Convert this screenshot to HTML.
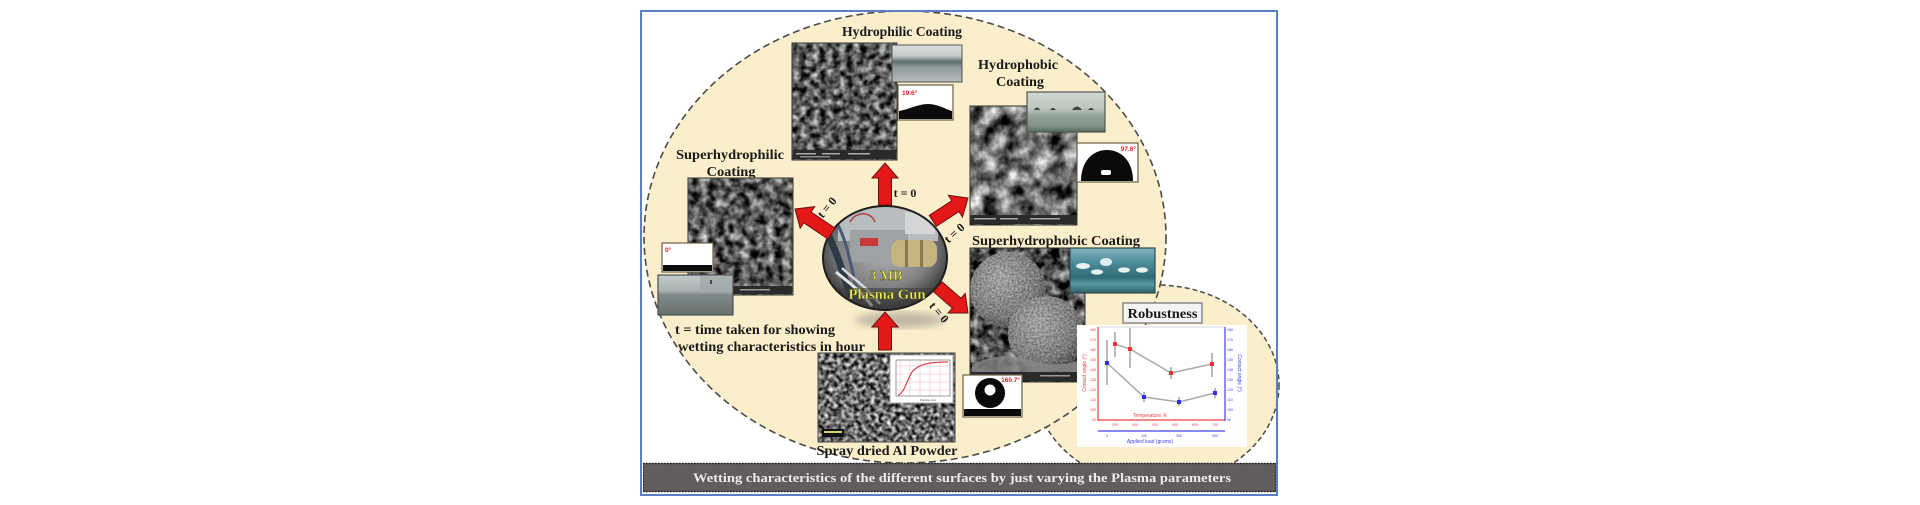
<!DOCTYPE html>
<html><head><meta charset="utf-8"><title>Wetting characteristics</title>
<style>
html,body{margin:0;padding:0;background:#fff;width:1920px;height:505px;overflow:hidden}
svg{display:block}
.t{font-family:"Liberation Serif","DejaVu Serif",serif;font-weight:bold;fill:#1a1a1a}
.s{font-family:"Liberation Sans","DejaVu Sans",sans-serif}
</style></head><body>
<svg width="1920" height="505" viewBox="0 0 1920 505" xmlns="http://www.w3.org/2000/svg">
<defs>
<filter id="nA" x="0" y="0" width="1" height="1" color-interpolation-filters="sRGB">
<feTurbulence type="fractalNoise" baseFrequency="0.15" numOctaves="3" seed="4"/>
<feColorMatrix type="matrix" values="1.5 0 0 0 -0.40 1.5 0 0 0 -0.40 1.5 0 0 0 -0.40 0 0 0 0 1"/>
<feGaussianBlur stdDeviation="0.5"/>
</filter>
<filter id="nB" x="0" y="0" width="1" height="1" color-interpolation-filters="sRGB">
<feTurbulence type="fractalNoise" baseFrequency="0.06" numOctaves="4" seed="9"/>
<feColorMatrix type="matrix" values="1.6 0 0 0 -0.36 1.6 0 0 0 -0.36 1.6 0 0 0 -0.36 0 0 0 0 1"/>
</filter>
<filter id="nC" x="0" y="0" width="1" height="1" color-interpolation-filters="sRGB">
<feTurbulence type="fractalNoise" baseFrequency="0.12" numOctaves="3" seed="13"/>
<feColorMatrix type="matrix" values="1.5 0 0 0 -0.40 1.5 0 0 0 -0.40 1.5 0 0 0 -0.40 0 0 0 0 1"/>
<feGaussianBlur stdDeviation="0.5"/>
</filter>
<filter id="nD" x="0" y="0" width="1" height="1" color-interpolation-filters="sRGB">
<feTurbulence type="fractalNoise" baseFrequency="0.24" numOctaves="2" seed="21"/>
<feColorMatrix type="matrix" values="2.0 0 0 0 -0.58 2.0 0 0 0 -0.58 2.0 0 0 0 -0.58 0 0 0 0 1"/>
<feGaussianBlur stdDeviation="0.4"/>
</filter>
<filter id="nE" x="0" y="0" width="1" height="1" color-interpolation-filters="sRGB">
<feTurbulence type="fractalNoise" baseFrequency="0.1" numOctaves="3" seed="30"/>
<feColorMatrix type="matrix" values="1.4 0 0 0 -0.42 1.4 0 0 0 -0.42 1.4 0 0 0 -0.42 0 0 0 0 1"/>
</filter>
<filter id="nF" x="0" y="0" width="1" height="1" color-interpolation-filters="sRGB">
<feTurbulence type="fractalNoise" baseFrequency="0.5" numOctaves="2" seed="5"/>
<feColorMatrix type="matrix" values="2 0 0 0 -0.5 2 0 0 0 -0.5 2 0 0 0 -0.5 0 0 0 0 1"/>
</filter>
<filter id="blur4"><feGaussianBlur stdDeviation="4"/></filter>
<radialGradient id="gun" cx="0.5" cy="0.42" r="0.62">
<stop offset="0" stop-color="#b4b6b8"/><stop offset="0.6" stop-color="#7e8082"/><stop offset="1" stop-color="#262626"/>
</radialGradient>
<radialGradient id="sph" cx="0.4" cy="0.35" r="0.7">
<stop offset="0" stop-color="#b0b0b0"/><stop offset="0.7" stop-color="#7a7a7a"/><stop offset="1" stop-color="#3c3c3c"/>
</radialGradient>
<linearGradient id="ph1" x1="0" y1="0" x2="0" y2="1">
<stop offset="0" stop-color="#dcdfdf"/><stop offset="0.3" stop-color="#c3c9c9"/><stop offset="0.45" stop-color="#5c6d6b"/><stop offset="0.6" stop-color="#8e9a9a"/><stop offset="1" stop-color="#b6bbbb"/>
</linearGradient>
<linearGradient id="ph2" x1="0" y1="0" x2="0" y2="1">
<stop offset="0" stop-color="#d3d8d3"/><stop offset="0.4" stop-color="#bcc7bf"/><stop offset="0.6" stop-color="#93a49a"/><stop offset="0.85" stop-color="#7f9188"/><stop offset="1" stop-color="#55665d"/>
</linearGradient>
<linearGradient id="ph3" x1="0" y1="0" x2="0" y2="1">
<stop offset="0" stop-color="#86b3c2"/><stop offset="0.3" stop-color="#4f8e9c"/><stop offset="0.65" stop-color="#2f6b76"/><stop offset="0.8" stop-color="#5a9aa4"/><stop offset="1" stop-color="#2c5f68"/>
</linearGradient>
<linearGradient id="ph4" x1="0" y1="0" x2="0" y2="1">
<stop offset="0" stop-color="#c4caca"/><stop offset="0.4" stop-color="#aab2b2"/><stop offset="0.5" stop-color="#7d8888"/><stop offset="1" stop-color="#66716f"/>
</linearGradient>
<clipPath id="gunclip"><ellipse cx="885" cy="258" rx="62" ry="52"/></clipPath>
<clipPath id="sphclip"><circle cx="1008" cy="290" r="38"/><circle cx="1046" cy="334" r="38"/></clipPath>
</defs>

<rect width="1920" height="505" fill="#fff"/>

<!-- ellipses -->
<ellipse cx="1157" cy="385" rx="122" ry="100" fill="#fbeecb" stroke="#4a4a4a" stroke-width="1.5" stroke-dasharray="5 3"/>
<ellipse cx="905" cy="237" rx="261" ry="226" fill="#fbeecb" stroke="#4a4a4a" stroke-width="1.6" stroke-dasharray="7 4"/>

<!-- Hydrophilic -->
<text class="t" x="902" y="36" font-size="14" text-anchor="middle" textLength="120" lengthAdjust="spacingAndGlyphs">Hydrophilic Coating</text>
<rect x="792" y="43" width="105" height="117" filter="url(#nA)"/>
<rect x="792" y="43" width="105" height="117" fill="none" stroke="#333" stroke-width="1"/>
<rect x="793" y="150" width="103" height="9" fill="#2a2a2a"/>
<rect x="796" y="153" width="20" height="1.5" fill="#aaa"/><rect x="822" y="153" width="18" height="1.5" fill="#aaa"/><rect x="848" y="153" width="22" height="1.5" fill="#aaa"/><rect x="800" y="156" width="30" height="1.5" fill="#888"/>
<rect x="892" y="45" width="70" height="37" fill="url(#ph1)" stroke="#555" stroke-width="1"/>
<rect x="898" y="85" width="55" height="35" fill="#fff" stroke="#6b5f48" stroke-width="1.2"/>
<path d="M899,119 L899,111 C910,109 918,104 928,104 C938,104 945,109 952,111 L952,119 Z" fill="#0c0c0c"/>
<text class="s" x="902" y="95" font-size="6.5" fill="#e02020" font-weight="bold">19.6°</text>

<!-- Hydrophobic -->
<text class="t" x="1018" y="69" font-size="14" text-anchor="middle" textLength="80" lengthAdjust="spacingAndGlyphs">Hydrophobic</text>
<text class="t" x="1020" y="86" font-size="14" text-anchor="middle" textLength="48" lengthAdjust="spacingAndGlyphs">Coating</text>
<rect x="970" y="106" width="107" height="119" filter="url(#nB)"/>
<rect x="970" y="106" width="107" height="119" fill="none" stroke="#333" stroke-width="1"/>
<rect x="971" y="215" width="105" height="9" fill="#2a2a2a"/>
<rect x="974" y="218" width="22" height="1.5" fill="#aaa"/><rect x="1000" y="218" width="18" height="1.5" fill="#aaa"/><rect x="1030" y="218" width="30" height="1.5" fill="#aaa"/>
<rect x="1027" y="92" width="78" height="40" fill="url(#ph2)" stroke="#4e5a52" stroke-width="1.2"/>
<path d="M1034,110 q3,-5 6,0 z M1050,110 q3,-4 6,0 z M1072,110 q5,-7 10,0 z M1088,110 q3,-4 6,0 z" fill="#3c4640"/>
<rect x="1077" y="143" width="61" height="39" fill="#fff" stroke="#6b5f48" stroke-width="1.2"/>
<path d="M1081,181 C1081,162 1092,150 1107,150 C1122,150 1133,162 1133,181 Z" fill="#0a0a0a"/>
<rect x="1101" y="170" width="10" height="5" rx="2" fill="#fff"/>
<text class="s" x="1136" y="151" font-size="6.5" fill="#e02020" font-weight="bold" text-anchor="end">97.6°</text>

<!-- Superhydrophilic -->
<text class="t" x="730" y="159" font-size="14" text-anchor="middle" textLength="108" lengthAdjust="spacingAndGlyphs">Superhydrophilic</text>
<text class="t" x="731" y="176" font-size="14" text-anchor="middle" textLength="49" lengthAdjust="spacingAndGlyphs">Coating</text>
<rect x="688" y="178" width="105" height="117" filter="url(#nC)"/>
<rect x="688" y="178" width="105" height="117" fill="none" stroke="#333" stroke-width="1"/>
<rect x="689" y="286" width="103" height="8" fill="#2a2a2a"/>
<rect x="740" y="289" width="30" height="1.5" fill="#999"/>
<rect x="662" y="243" width="51" height="29" fill="#fff" stroke="#6b5f48" stroke-width="1.2"/>
<rect x="663" y="265" width="49" height="6" fill="#0c0c0c"/>
<text class="s" x="665" y="252" font-size="6.5" fill="#e02020" font-weight="bold">0°</text>
<rect x="658" y="275" width="75" height="40" fill="url(#ph4)" stroke="#4a5050" stroke-width="1.2"/>
<rect x="700" y="276" width="32" height="15" fill="#9ea6a6" opacity="0.7"/>
<rect x="710" y="280" width="2" height="4" fill="#445"/>

<!-- t = time note -->
<text class="t" x="675" y="334" font-size="14" textLength="160" lengthAdjust="spacingAndGlyphs">t = time taken for showing</text>
<text class="t" x="678" y="351" font-size="14" textLength="187" lengthAdjust="spacingAndGlyphs">wetting characteristics in hour</text>

<!-- Superhydrophobic -->
<text class="t" x="1056" y="245" font-size="14" text-anchor="middle" textLength="168" lengthAdjust="spacingAndGlyphs">Superhydrophobic Coating</text>
<rect x="970" y="248" width="115" height="134" filter="url(#nE)"/>
<circle cx="1008" cy="290" r="38" fill="url(#sph)"/>
<circle cx="1046" cy="334" r="38" fill="url(#sph)"/>
<rect x="970" y="248" width="115" height="134" filter="url(#nF)" clip-path="url(#sphclip)" opacity="0.25"/>
<path d="M972,365 Q1000,350 1030,360 T1084,358 L1084,372 L972,372 Z" fill="#8a8a8a" opacity="0.8"/>
<rect x="971" y="372" width="113" height="9" fill="#2a2a2a"/>
<rect x="1040" y="375" width="30" height="1.5" fill="#999"/>
<rect x="970" y="248" width="115" height="134" fill="none" stroke="#333" stroke-width="1"/>
<rect x="1070" y="248" width="85" height="45" fill="url(#ph3)" stroke="#2e4d52" stroke-width="1.2"/>
<ellipse cx="1083" cy="266" rx="7" ry="3" fill="#e8f2f2"/>
<ellipse cx="1097" cy="272" rx="6" ry="2.6" fill="#e8f2f2"/>
<ellipse cx="1106" cy="262" rx="6" ry="4" fill="#dfeeee"/>
<ellipse cx="1124" cy="270" rx="6" ry="2.6" fill="#e8f2f2"/>
<ellipse cx="1142" cy="270" rx="6" ry="2.6" fill="#e8f2f2"/>
<rect x="963" y="375" width="59" height="42" fill="#fff" stroke="#6b5f48" stroke-width="1.2"/>
<circle cx="990" cy="393" r="15" fill="#0a0a0a"/>
<circle cx="990" cy="390" r="5.5" fill="#fff"/>
<rect x="964" y="409" width="57" height="7" fill="#0a0a0a"/>
<text class="s" x="1020" y="382" font-size="6.5" fill="#e02020" font-weight="bold" text-anchor="end">160.7°</text>

<!-- Spray dried Al powder -->
<rect x="818" y="353" width="137" height="89" filter="url(#nD)"/>
<rect x="818" y="353" width="137" height="89" fill="none" stroke="#444" stroke-width="1"/>
<rect x="822" y="429" width="22" height="8" fill="#111"/>
<rect x="824" y="431" width="18" height="2" fill="#d8d070"/>
<rect x="890" y="355" width="63" height="48" fill="#fff" stroke="#999" stroke-width="0.8"/>
<g stroke="#f0b8c0" stroke-width="0.5">
<line x1="900" y1="360" x2="900" y2="396"/><line x1="910" y1="360" x2="910" y2="396"/><line x1="920" y1="360" x2="920" y2="396"/><line x1="930" y1="360" x2="930" y2="396"/><line x1="940" y1="360" x2="940" y2="396"/>
<line x1="896" y1="366" x2="950" y2="366"/><line x1="896" y1="374" x2="950" y2="374"/><line x1="896" y1="382" x2="950" y2="382"/><line x1="896" y1="390" x2="950" y2="390"/>
</g>
<rect x="896" y="360" width="54" height="36" fill="none" stroke="#555" stroke-width="0.6"/>
<path d="M898,395 C904,394 907,380 912,372 C918,364 930,362 948,362" fill="none" stroke="#d02030" stroke-width="1"/>
<text class="s" x="920" y="401" font-size="3" fill="#555">Particle size</text>
<text class="t" x="887" y="455" font-size="14" text-anchor="middle" textLength="141" lengthAdjust="spacingAndGlyphs">Spray dried Al Powder</text>

<!-- plasma gun -->
<ellipse cx="900" cy="320" rx="45" ry="8" fill="#777" opacity="0.45" filter="url(#blur4)"/>
<ellipse cx="885" cy="258" rx="62" ry="52" fill="url(#gun)"/>
<g clip-path="url(#gunclip)">
<rect x="838" y="205" width="100" height="36" fill="#b9bdc0"/>
<rect x="850" y="230" width="58" height="32" fill="#9da2a5"/>
<rect x="905" y="212" width="30" height="22" fill="#d4d6d8"/>
<rect x="860" y="238" width="18" height="8" fill="#c83a3a"/>
<rect x="891" y="240" width="46" height="27" rx="9" fill="#c6b480"/>
<rect x="905" y="240" width="3" height="27" fill="#8a7a50"/>
<rect x="920" y="240" width="3" height="27" fill="#8a7a50"/>
<path d="M826,230 C836,250 842,270 852,300" stroke="#2c3a48" stroke-width="7" fill="none"/>
<path d="M838,225 C846,240 850,260 858,296" stroke="#4a5a70" stroke-width="3" fill="none"/>
<path d="M836,272 C848,282 860,290 872,306" stroke="#e4e4e4" stroke-width="3" fill="none"/>
<path d="M842,268 C852,278 866,286 880,304" stroke="#d8d8d8" stroke-width="2.5" fill="none"/>
<rect x="830" y="288" width="115" height="25" fill="#3a3a3a" opacity="0.55"/>
<path d="M850,222 C855,212 870,210 875,222" stroke="#b04040" stroke-width="1.5" fill="none"/>
</g>
<ellipse cx="885" cy="258" rx="62" ry="52" fill="none" stroke="#1e1e1e" stroke-width="2"/>
<text class="t" x="886" y="280" font-size="14" text-anchor="middle" style="fill:#f0ea58" stroke="#4a4a10" stroke-width="0.4">3 MB</text>
<text class="t" x="887" y="299" font-size="15" text-anchor="middle" style="fill:#f0ea58" stroke="#4a4a10" stroke-width="0.4" textLength="77" lengthAdjust="spacingAndGlyphs">Plasma Gun</text>

<!-- arrows -->
<g fill="#e51818" stroke="#6a1010" stroke-width="1">
<polygon transform="translate(885,163)" points="0,0 13,15 6.5,15 6.5,42 -6.5,42 -6.5,15 -13,15"/>
<polygon transform="translate(885,312)" points="0,0 13,15 6.5,15 6.5,38 -6.5,38 -6.5,15 -13,15"/>
<polygon transform="translate(795,209) rotate(-56)" points="0,0 13,15 6.5,15 6.5,44 -6.5,44 -6.5,15 -13,15"/>
<polygon transform="translate(968,198) rotate(57)" points="0,0 13,15 6.5,15 6.5,42 -6.5,42 -6.5,15 -13,15"/>
<polygon transform="translate(968,313) rotate(131)" points="0,0 13,15 6.5,15 6.5,40 -6.5,40 -6.5,15 -13,15"/>
</g>
<text class="t" x="905" y="197" font-size="12" text-anchor="middle">t = 0</text>
<text class="t" font-size="12" text-anchor="middle" transform="translate(830,210) rotate(-50)">t = 0</text>
<text class="t" font-size="12" text-anchor="middle" transform="translate(957,236) rotate(-42)">t = 0</text>
<text class="t" font-size="12" text-anchor="middle" transform="translate(936,315) rotate(50)">t = 0</text>

<!-- Robustness -->
<rect x="1123" y="303" width="79" height="20" fill="#f4f4f4" stroke="#8a8a8a" stroke-width="1.5"/>
<text class="t" x="1162.5" y="318" font-size="14" text-anchor="middle" textLength="70" lengthAdjust="spacingAndGlyphs">Robustness</text>
<rect x="1077" y="325" width="170" height="122" fill="#fff"/>
<line x1="1098" y1="327" x2="1225" y2="327" stroke="#c8c8c8" stroke-width="0.8"/>
<line x1="1098" y1="327" x2="1098" y2="421" stroke="#f04040" stroke-width="1.2"/>
<line x1="1098" y1="420" x2="1225" y2="420" stroke="#f04040" stroke-width="1.2"/>
<line x1="1225" y1="327" x2="1225" y2="421" stroke="#4040f0" stroke-width="1.2"/>
<line x1="1098" y1="431" x2="1225" y2="431" stroke="#4040f0" stroke-width="1.2"/>
<g class="s" font-size="3.6" fill="#f04040" text-anchor="end">
<text x="1096" y="331">180</text><text x="1096" y="341">170</text><text x="1096" y="351">160</text><text x="1096" y="361">150</text><text x="1096" y="371">140</text><text x="1096" y="381">130</text><text x="1096" y="391">120</text><text x="1096" y="401">110</text><text x="1096" y="411">100</text><text x="1096" y="421">90</text>
</g>
<g class="s" font-size="3.6" fill="#4040f0">
<text x="1227" y="331">180</text><text x="1227" y="341">170</text><text x="1227" y="351">160</text><text x="1227" y="361">150</text><text x="1227" y="371">140</text><text x="1227" y="381">130</text><text x="1227" y="391">120</text><text x="1227" y="401">110</text><text x="1227" y="411">100</text><text x="1227" y="421">90</text>
</g>
<g class="s" font-size="3.6" fill="#f04040" text-anchor="middle">
<text x="1115" y="426">200</text><text x="1135" y="426">300</text><text x="1155" y="426">400</text><text x="1175" y="426">500</text><text x="1195" y="426">600</text><text x="1215" y="426">700</text>
</g>
<g class="s" font-size="3.6" fill="#4040f0" text-anchor="middle">
<text x="1107" y="437">0</text><text x="1144" y="437">100</text><text x="1179" y="437">300</text><text x="1215" y="437">500</text>
</g>
<text class="s" x="1150" y="417" font-size="5" fill="#f04040" text-anchor="middle">Temperature, K</text>
<text class="s" x="1150" y="443" font-size="5" fill="#4040f0" text-anchor="middle">Applied load (grams)</text>
<text class="s" font-size="5" fill="#f04040" text-anchor="middle" transform="translate(1086,373) rotate(-90)">Contact angle (°)</text>
<text class="s" font-size="5" fill="#4040f0" text-anchor="middle" transform="translate(1238,373) rotate(90)">Contact angle (°)</text>
<polyline points="1115,344 1130,349 1171,373 1212,364" fill="none" stroke="#aaa" stroke-width="1.5"/>
<polyline points="1107,363 1144,397 1179,402 1215,393" fill="none" stroke="#aaa" stroke-width="1.5"/>
<g stroke="#555" stroke-width="0.8">
<line x1="1115" y1="332" x2="1115" y2="357"/><line x1="1130" y1="328" x2="1130" y2="368"/><line x1="1171" y1="367" x2="1171" y2="379"/><line x1="1212" y1="353" x2="1212" y2="377"/>
<line x1="1107" y1="340" x2="1107" y2="385"/><line x1="1144" y1="392" x2="1144" y2="402"/><line x1="1179" y1="397" x2="1179" y2="406"/><line x1="1215" y1="388" x2="1215" y2="398"/>
</g>
<g fill="#ee3030"><rect x="1113" y="342" width="4" height="4"/><rect x="1128" y="347" width="4" height="4"/><rect x="1169" y="371" width="4" height="4"/><rect x="1210" y="362" width="4" height="4"/></g>
<g fill="#3030ee"><rect x="1105" y="361" width="4" height="4"/><rect x="1142" y="395" width="4" height="4"/><rect x="1177" y="400" width="4" height="4"/><rect x="1213" y="391" width="4" height="4"/></g>

<!-- banner -->
<rect x="643" y="463" width="633" height="29" fill="#625d5d"/>
<line x1="643" y1="463.5" x2="1276" y2="463.5" stroke="#222" stroke-width="1.5" stroke-dasharray="1.5 1.5"/>
<line x1="643" y1="491.5" x2="1276" y2="491.5" stroke="#222" stroke-width="1.5" stroke-dasharray="1.5 1.5"/>
<line x1="643.5" y1="463" x2="643.5" y2="492" stroke="#222" stroke-width="1" stroke-dasharray="1.5 1.5"/>
<line x1="1275.5" y1="463" x2="1275.5" y2="492" stroke="#222" stroke-width="1" stroke-dasharray="1.5 1.5"/>
<text class="t" x="962" y="482" font-size="13" text-anchor="middle" style="fill:#ececec" textLength="538" lengthAdjust="spacingAndGlyphs">Wetting characteristics of the different surfaces by just varying the Plasma parameters</text>

<!-- frame -->
<rect x="641" y="11" width="636" height="484" fill="none" stroke="#5b7fc4" stroke-width="2"/>
</svg>
</body></html>
